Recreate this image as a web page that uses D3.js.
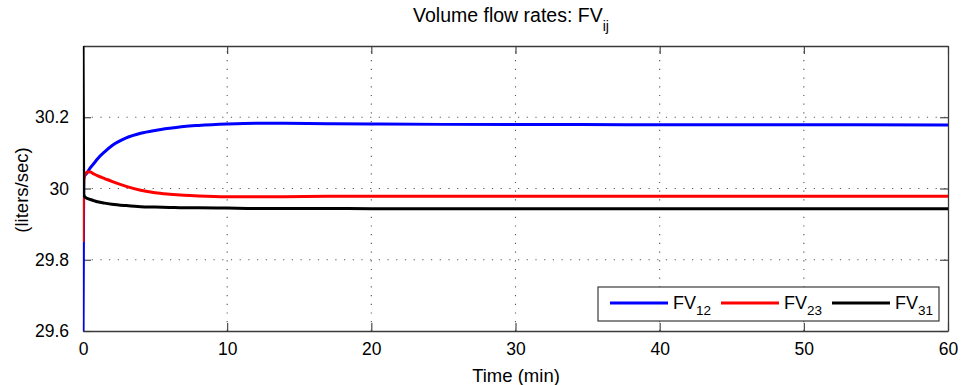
<!DOCTYPE html>
<html>
<head>
<meta charset="utf-8">
<script src="https://cdn.jsdelivr.net/npm/d3@7"></script>
<style>
  html, body { margin: 0; padding: 0; background: #fff; }
  text { font-family: "Liberation Sans", Arial, Helvetica, sans-serif; fill: #000; }
</style>
</head>
<body>
<svg id="chart" width="961" height="385"></svg>
<script>
// Time samples (min)
const time = [0, 0.05, 0.1, 0.2, 0.3, 0.5, 0.75, 1, 1.5, 2, 3, 4, 5, 6, 7, 8, 10, 12, 14, 17, 20, 25, 30, 40, 50, 60];
// Volume flow rates (liters/sec)
const fv12 = [29.6, 30.03, 30.035, 30.04, 30.045, 30.058, 30.07, 30.083, 30.103, 30.12, 30.142, 30.155, 30.163, 30.169, 30.174, 30.177, 30.181, 30.183, 30.183, 30.182, 30.181, 30.18, 30.18, 30.179, 30.179, 30.178];
const fv23 = [29.85, 30.02, 30.035, 30.043, 30.046, 30.046, 30.041, 30.036, 30.028, 30.02, 30.006, 29.995, 29.988, 29.984, 29.981, 29.979, 29.977, 29.977, 29.977, 29.978, 29.978, 29.978, 29.978, 29.978, 29.978, 29.978];
const fv31 = [30.4, 29.985, 29.978, 29.974, 29.972, 29.969, 29.966, 29.963, 29.959, 29.956, 29.952, 29.949, 29.948, 29.947, 29.946, 29.946, 29.945, 29.944, 29.944, 29.944, 29.943, 29.943, 29.943, 29.943, 29.943, 29.943];

const xTicks = [0, 10, 20, 30, 40, 50, 60];
const yTicks = [29.6, 29.8, 30, 30.2];

const seriesNames = ["12", "23", "31"];
const seriesColors = ["#0000ff", "#ff0000", "#000000"];
const seriesValues = [fv12, fv23, fv31];

const svg = d3.select("#chart");
const L = 83, R = 948, T = 46, B = 331;

const x = d3.scaleLinear().domain([0, 60]).range([L, R]);
const y = d3.scaleLinear().domain([29.6, 30.4]).range([B, T]);

// dotted grid
const grid = svg.append("g").attr("stroke", "#555").attr("stroke-width", 1.1)
  .attr("stroke-dasharray", "1.2,7.5");
xTicks.slice(1, -1).forEach(t => {
  grid.append("line").attr("x1", x(t)).attr("x2", x(t)).attr("y1", B).attr("y2", T);
});
yTicks.slice(1).forEach(t => {
  grid.append("line").attr("x1", L).attr("x2", R).attr("y1", y(t)).attr("y2", y(t));
});

// boxed axes with inward ticks
const axisColor = "#3a3a3a";
const tl = 8;
const xb = svg.append("g").attr("transform", `translate(0,${B})`)
  .call(d3.axisBottom(x).tickValues(xTicks).tickSizeInner(-tl).tickSizeOuter(0).tickPadding(12).tickFormat(d3.format("d")));
const xt = svg.append("g").attr("transform", `translate(0,${T})`)
  .call(d3.axisTop(x).tickValues(xTicks).tickSizeInner(-tl).tickSizeOuter(0).tickFormat(""));
const yl = svg.append("g").attr("transform", `translate(${L},0)`)
  .call(d3.axisLeft(y).tickValues(yTicks).tickSizeInner(-tl).tickSizeOuter(0).tickPadding(14).tickFormat(d => d3.format("")(+d.toFixed(1))));
const yr = svg.append("g").attr("transform", `translate(${R},0)`)
  .call(d3.axisRight(y).tickValues(yTicks).tickSizeInner(-tl).tickSizeOuter(0).tickFormat(""));
[xb, xt, yl, yr].forEach(g => {
  g.selectAll("path").attr("stroke", axisColor).attr("stroke-width", 1.3);
  g.selectAll("line").attr("stroke", axisColor).attr("stroke-width", 1.1);
  g.selectAll("text").attr("font-size", 17.5).attr("font-family", "Liberation Sans, Arial, sans-serif").attr("fill", "#000");
});

// series lines
svg.append("clipPath").attr("id", "plotclip").append("rect")
  .attr("x", L).attr("y", T).attr("width", R - L).attr("height", B - T);
const lineGen = vals => d3.line()
  .x((d, i) => x(time[i]))
  .y(d => y(d))
  .curve(d3.curveMonotoneX)(vals);
const plot = svg.append("g").attr("clip-path", "url(#plotclip)");
seriesValues.forEach((vals, i) => {
  plot.append("path").attr("d", lineGen(vals))
    .attr("fill", "none").attr("stroke", seriesColors[i]).attr("stroke-width", 3)
    .attr("stroke-linejoin", "round");
});

// title
const title = svg.append("text").attr("x", 511).attr("y", 22).attr("text-anchor", "middle").attr("font-size", 19.5);
title.append("tspan").text("Volume flow rates: FV");
title.append("tspan").attr("dy", 9).attr("font-size", 14).text("ij");

// axis labels
svg.append("text").attr("x", 516).attr("y", 382).attr("text-anchor", "middle").attr("font-size", 18.5).text("Time (min)");
svg.append("text").attr("transform", `translate(28,190) rotate(-90)`).attr("text-anchor", "middle").attr("font-size", 18.5).text("(liters/sec)");

// legend
const lg = svg.append("g");
lg.append("rect").attr("x", 598).attr("y", 287).attr("width", 341).attr("height", 34)
  .attr("fill", "#fff").attr("stroke", axisColor).attr("stroke-width", 1.2);
const lx = [610, 721, 832];
seriesNames.forEach((n, i) => {
  lg.append("line").attr("x1", lx[i]).attr("x2", lx[i] + 58).attr("y1", 303).attr("y2", 303)
    .attr("stroke", seriesColors[i]).attr("stroke-width", 3);
  const t = lg.append("text").attr("x", lx[i] + 63).attr("y", 309).attr("font-size", 18);
  t.append("tspan").text("FV");
  t.append("tspan").attr("dy", 6).attr("font-size", 13.5).text(n);
});
</script>
</body>
</html>
